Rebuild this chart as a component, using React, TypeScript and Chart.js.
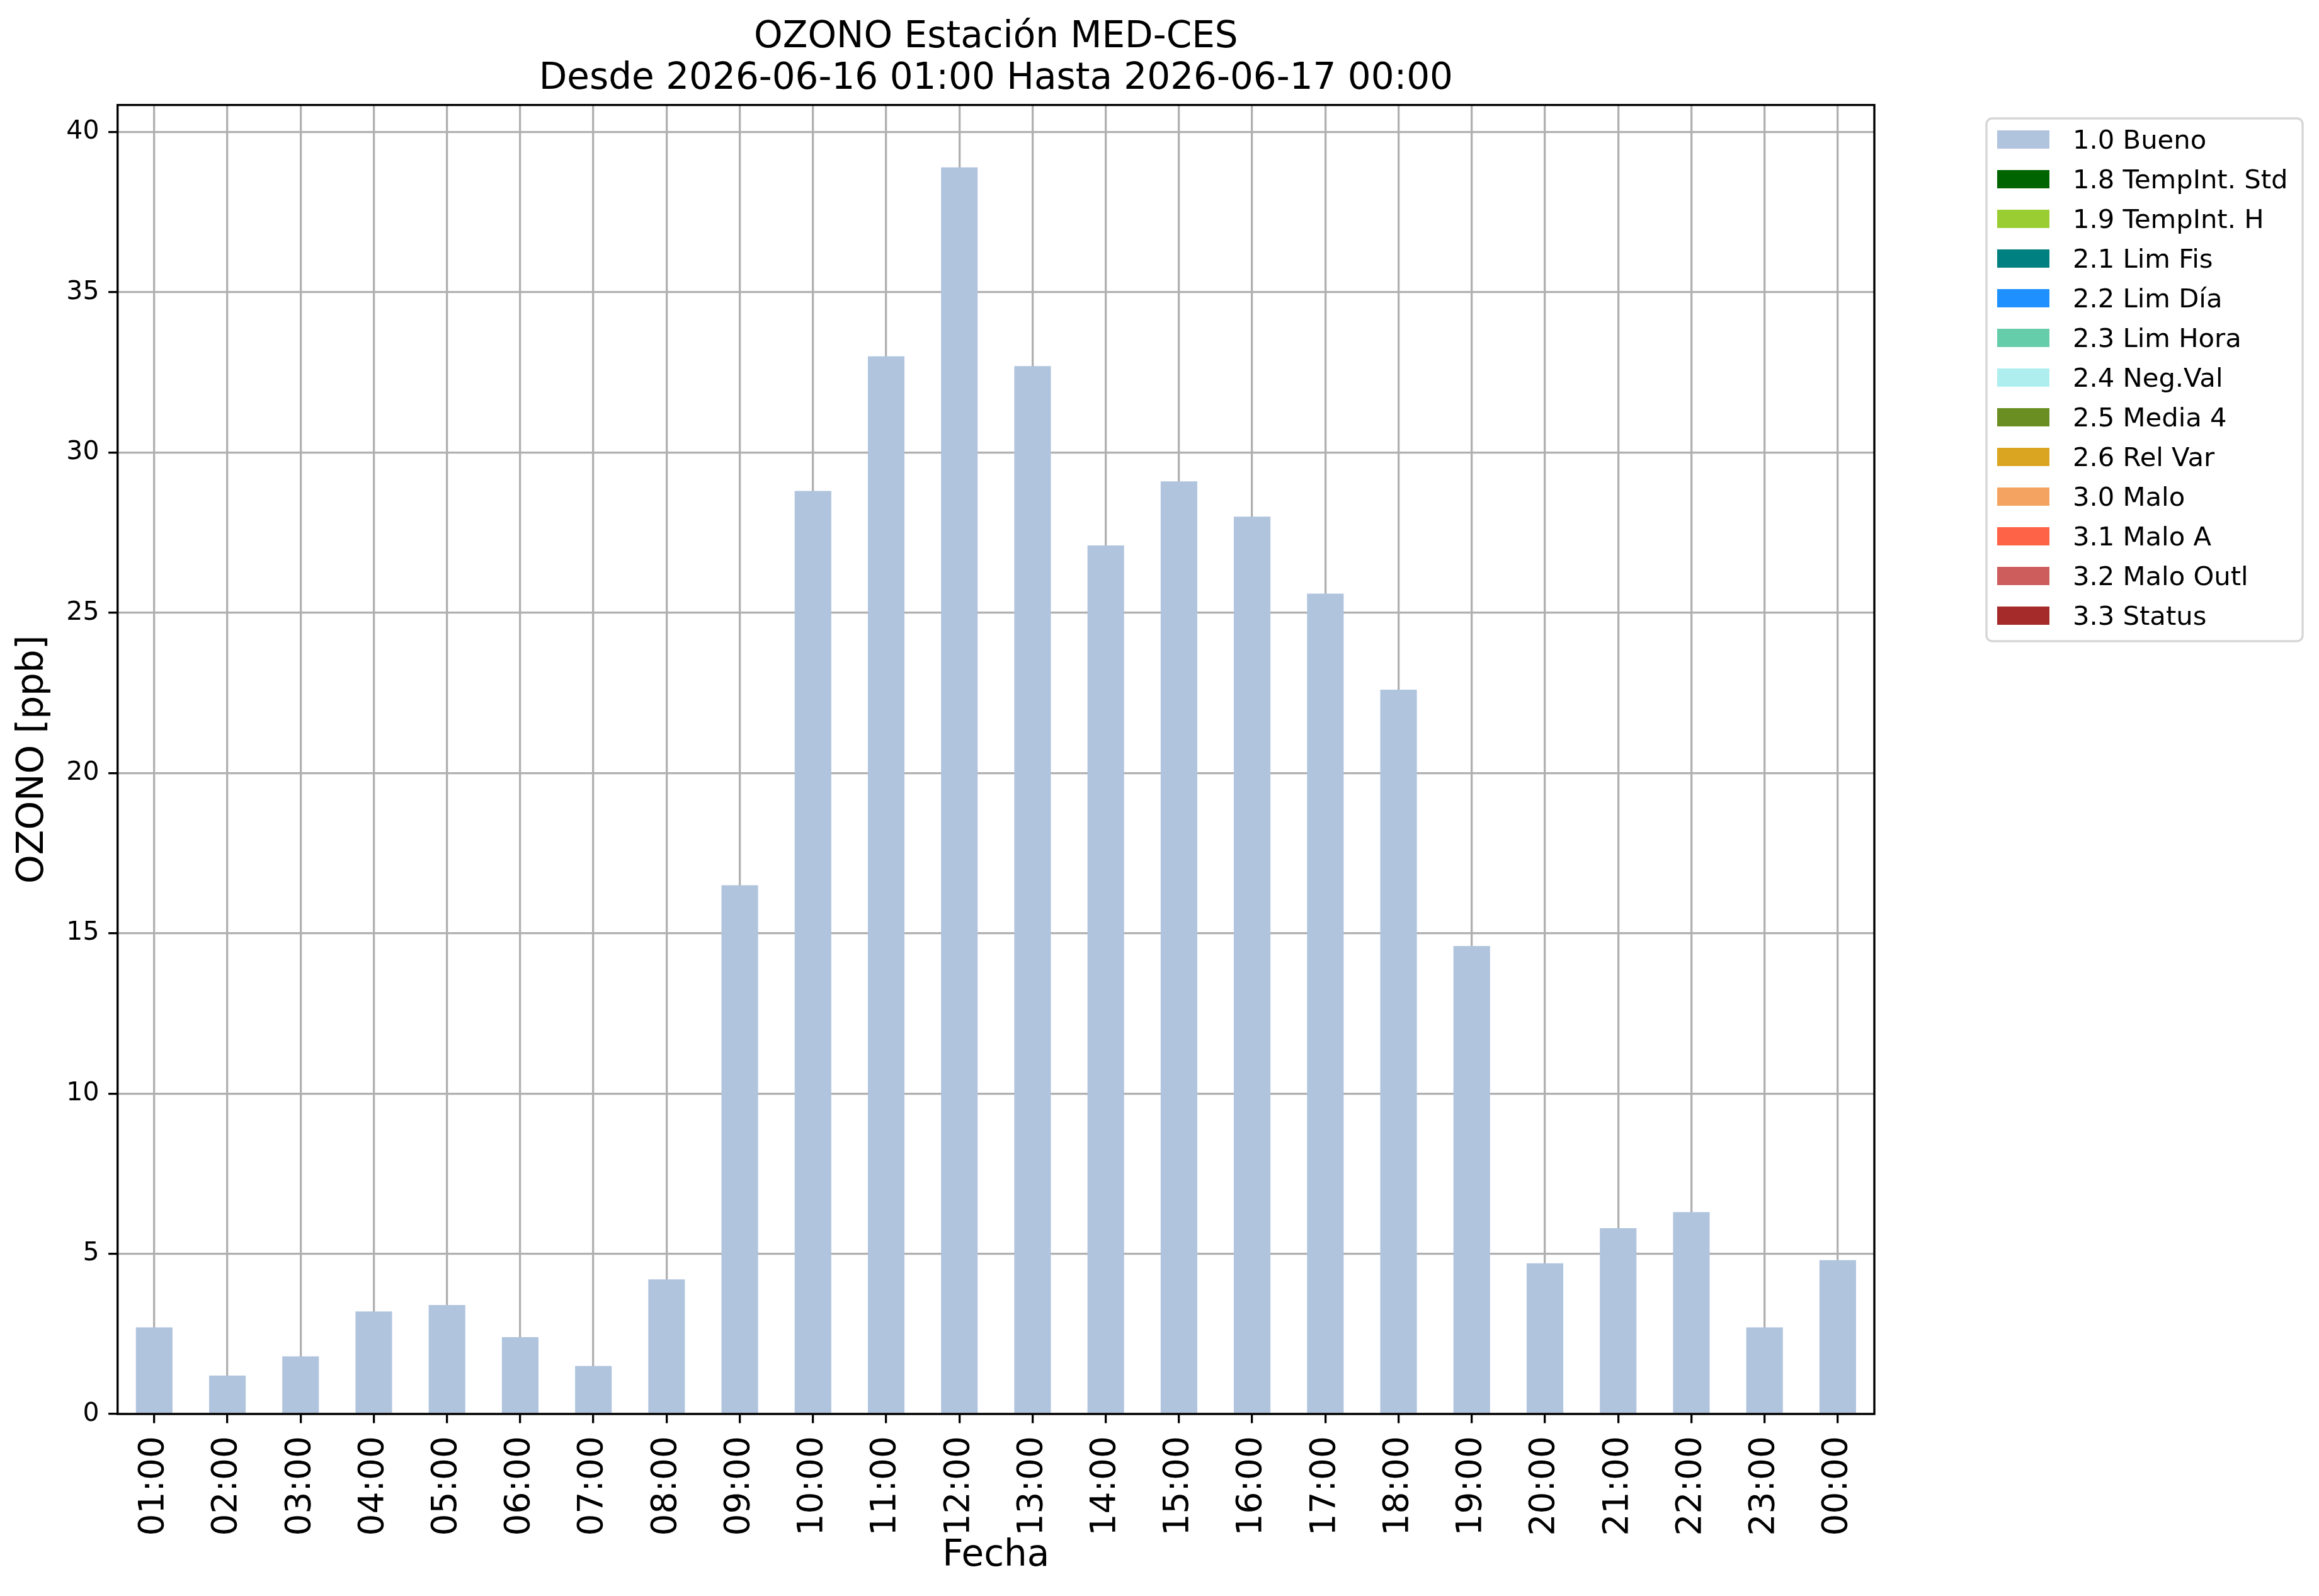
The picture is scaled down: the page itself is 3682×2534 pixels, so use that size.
import React, { useEffect, useRef } from "react";
import { Chart, registerables } from "chart.js";

Chart.register(...registerables);

const HOURS = [
  "01:00", "02:00", "03:00", "04:00", "05:00", "06:00", "07:00", "08:00",
  "09:00", "10:00", "11:00", "12:00", "13:00", "14:00", "15:00", "16:00",
  "17:00", "18:00", "19:00", "20:00", "21:00", "22:00", "23:00", "00:00",
];

const BUENO = [
  2.7, 1.2, 1.8, 3.2, 3.4, 2.4, 1.5, 4.2,
  16.5, 28.8, 33.0, 38.9, 32.7, 27.1, 29.1, 28.0,
  25.6, 22.6, 14.6, 4.7, 5.8, 6.3, 2.7, 4.8,
];

const FLAG_LABELS = [
  "1.0 Bueno", "1.8 TempInt. Std", "1.9 TempInt. H", "2.1 Lim Fis",
  "2.2 Lim Día", "2.3 Lim Hora", "2.4 Neg.Val", "2.5 Media 4",
  "2.6 Rel Var", "3.0 Malo", "3.1 Malo A", "3.2 Malo Outl", "3.3 Status",
];

const FLAG_COLORS = [
  "#B0C4DE", "#006400", "#9ACD32", "#008080", "#1E90FF", "#66CDAA",
  "#AFEEEE", "#6B8E23", "#DAA520", "#F4A460", "#FF6347", "#CD5C5C", "#A52A2A",
];

const Y_TICKS_STEP = 5;
const Y_MAX = 40.845;

const TITLE_LINES = [
  "OZONO Estación MED-CES",
  "Desde 2026-06-16 01:00 Hasta 2026-06-17 00:00",
];
const X_TITLE = "Fecha";
const Y_TITLE = "OZONO [ppb]";

const FONT = "DejaVu Sans";
const W = 3682;
const H = 2534;

const decorPlugin = {
  id: "decor",
  beforeDraw(chart: any) {
    const ctx = chart.ctx;
    ctx.save();
    ctx.fillStyle = "#ffffff";
    ctx.fillRect(0, 0, chart.width, chart.height);
    ctx.restore();
  },
  afterDraw(chart: any) {
    const { ctx, chartArea: a } = chart;
    ctx.save();
    // spines
    ctx.strokeStyle = "#000000";
    ctx.lineWidth = 3.4;
    ctx.strokeRect(a.left, a.top, a.right - a.left, a.bottom - a.top);

    // title
    ctx.fillStyle = "#000000";
    ctx.font = `58px "${FONT}"`;
    ctx.textAlign = "center";
    ctx.textBaseline = "alphabetic";
    const cx = (a.left + a.right) / 2;
    TITLE_LINES.forEach((t, i) => ctx.fillText(t, cx, 75 + i * 66));

    // legend
    const ds = chart.data.datasets;
    const bx = 3154, by = 188, bw = 502, bh = 830;
    ctx.fillStyle = "rgba(255,255,255,0.8)";
    ctx.strokeStyle = "#d6d6d6";
    ctx.lineWidth = 3.4;
    ctx.beginPath();
    (ctx as any).roundRect(bx, by, bw, bh, 9);
    ctx.fill();
    ctx.stroke();
    ctx.font = `41.7px "${FONT}"`;
    ctx.textAlign = "left";
    ctx.textBaseline = "alphabetic";
    ds.forEach((d: any, i: number) => {
      const top = 207 + i * 63;
      ctx.fillStyle = d.backgroundColor;
      ctx.fillRect(3171, top, 83, 29);
      ctx.fillStyle = "#000000";
      ctx.fillText(d.label, 3291, top + 29);
    });
    ctx.restore();
  },
};

export default function App() {
  const ref = useRef<HTMLCanvasElement | null>(null);

  useEffect(() => {
    if (!ref.current) return;
    const datasets = FLAG_LABELS.map((label, i) => ({
      label,
      data: i === 0 ? BUENO : [],
      backgroundColor: FLAG_COLORS[i],
      borderWidth: 0,
      barPercentage: 0.5,
      categoryPercentage: 1.0,
    }));

    const chart = new Chart(ref.current, {
      type: "bar",
      data: { labels: HOURS, datasets },
      plugins: [decorPlugin],
      options: {
        animation: false,
        responsive: false,
        maintainAspectRatio: false,
        devicePixelRatio: 1,
        layout: { padding: { left: 0, top: 166.7, right: 706, bottom: 0 } },
        plugins: {
          legend: { display: false },
          title: { display: false },
          tooltip: { enabled: false },
        },
        scales: {
          x: {
            stacked: true,
            offset: true,
            z: 1,
            grid: {
              display: true,
              offset: false,
              color: "#b0b0b0",
              lineWidth: 3.3,
              drawTicks: true,
              tickLength: 14.6,
              tickColor: "#000000",
              tickWidth: 3.3,
            },
            border: { display: false },
            ticks: {
              autoSkip: false,
              minRotation: 90,
              maxRotation: 90,
              padding: 20.4,
              color: "#000000",
              font: { family: FONT, size: 55 },
            },
            title: {
              display: true,
              text: X_TITLE,
              color: "#000000",
              font: { family: FONT, size: 58 },
              padding: { top: 0, bottom: 28.7 },
            },
            afterFit: (s: any) => {
              s.height = H - 2245;
            },
          },
          y: {
            stacked: true,
            min: 0,
            max: Y_MAX,
            z: 1,
            grid: {
              display: true,
              color: "#b0b0b0",
              lineWidth: 3.3,
              drawTicks: true,
              tickLength: 14.6,
              tickColor: "#000000",
              tickWidth: 3.3,
            },
            border: { display: false },
            ticks: {
              stepSize: Y_TICKS_STEP,
              includeBounds: false,
              padding: 14.6,
              color: "#000000",
              font: { family: FONT, size: 41 },
            },
            title: {
              display: true,
              text: Y_TITLE,
              color: "#000000",
              font: { family: FONT, size: 58 },
              padding: { top: 17.7, bottom: 0 },
            },
            afterFit: (s: any) => {
              s.width = 186.7;
            },
          },
        },
      } as any,
    });
    return () => chart.destroy();
  }, []);

  return (
    <div style={{ position: "fixed", left: 0, top: 0, width: W, height: H, background: "#fff" }}>
      <canvas ref={ref} width={W} height={H} style={{ width: W, height: H, display: "block" }} />
    </div>
  );
}
